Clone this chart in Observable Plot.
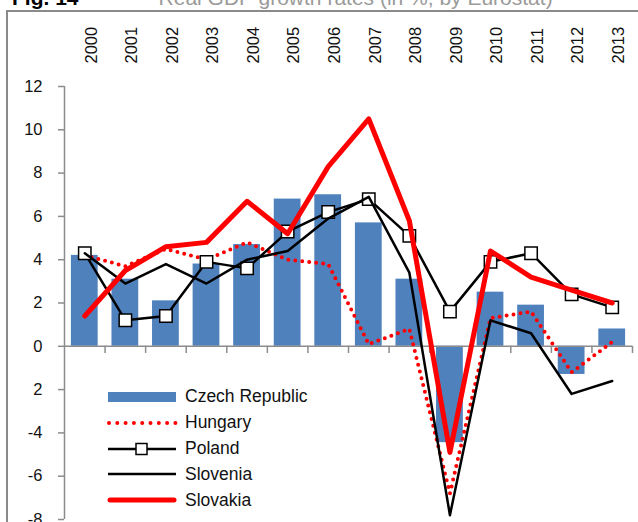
<!DOCTYPE html>
<html>
<head>
<meta charset="utf-8">
<script src="https://cdn.jsdelivr.net/npm/d3@7"></script>
<script src="https://cdn.jsdelivr.net/npm/@observablehq/plot@0.6"></script>
<style>
  html, body { margin:0; padding:0; background:#fff; }
  body { width:638px; height:522px; overflow:hidden; position:relative; font-family:"Liberation Sans", Arial, sans-serif; }
  #frame { position:absolute; left:6px; top:10px; width:700px; height:600px; border-left:2px solid #8a8a8a; border-top:2px solid #8a8a8a; box-sizing:border-box; }
  #title { position:absolute; left:12px; top:-14px; font-size:21px; line-height:24px; white-space:nowrap; }
  #title b { color:#000; }
  #title span { color:#9a9a9a; margin-left:80px; }
  #chart { position:absolute; left:0; top:0; }
  #legend { position:absolute; left:106px; top:384px; }
  .row { display:flex; align-items:center; height:25.8px; }
  .row svg { display:block; }
  .row .lab { margin-left:7px; font-size:17.5px; color:#111; }
</style>
</head>
<body>
<div id="title"><b>Fig. 14</b><span>Real GDP growth rates (in %, by Eurostat)</span></div>
<div id="frame"></div>
<div id="chart"></div>
<div id="legend"></div>
<script>
const years    = [2000, 2001, 2002, 2003, 2004, 2005, 2006, 2007, 2008, 2009, 2010, 2011, 2012, 2013];
const czech    = [4.2, 3.1, 2.1, 3.8, 4.7, 6.8, 7.0, 5.7, 3.1, -4.45, 2.5, 1.9, -1.3, 0.8];
const hungary  = [4.2, 3.7, 4.5, 4.0, 4.8, 4.0, 3.8, 0.1, 0.8, -6.8, 1.3, 1.6, -1.2, 0.2];
const poland   = [4.3, 1.2, 1.4, 3.9, 3.6, 5.3, 6.2, 6.8, 5.1, 1.6, 3.9, 4.3, 2.4, 1.8];
const slovenia = [4.3, 2.9, 3.8, 2.9, 4.0, 4.4, 5.9, 6.9, 3.4, -7.8, 1.2, 0.6, -2.2, -1.6];
const slovakia = [1.4, 3.5, 4.6, 4.8, 6.7, 5.2, 8.3, 10.5, 5.8, -4.9, 4.4, 3.2, 2.6, 2.0];
const seriesNames = ["Czech Republic", "Hungary", "Poland", "Slovenia", "Slovakia"];
const yTicks      = [-8, -6, -4, -2, 0, 2, 4, 6, 8, 10, 12];
const yTickLabels = ["-8", "-6", "-4", "2", "0", "2", "4", "6", "8", "10", "12"];

const data = years.map((year, i) => ({
  year, czech: czech[i], hungary: hungary[i], poland: poland[i], slovenia: slovenia[i], slovakia: slovakia[i]
}));
const boundaries = years.map(y => y + 0.5);
const axisGray = "#8c8c8c";

const chart = Plot.plot({
  width: 638,
  height: 522,
  marginLeft: 64,
  marginRight: 6,
  marginTop: 86,
  marginBottom: 3,
  x: {domain: [years[0] - 0.5, years[years.length - 1] + 0.5], axis: null},
  y: {domain: [-8, 12], axis: null},
  style: {fontFamily: "'Liberation Sans', Arial, sans-serif", fontSize: "16.5px", background: "transparent", overflow: "visible"},
  marks: [
    Plot.rectY(data, {x1: d => d.year - 0.33, x2: d => d.year + 0.33, y: "czech", fill: "#4F81BD"}),
    Plot.ruleY([0], {stroke: axisGray, strokeWidth: 1.5}),
    Plot.ruleX(boundaries, {x: d => d, y1: 0, y2: -0.33, stroke: axisGray, strokeWidth: 1.5}),
    Plot.ruleX([years[0] - 0.5], {stroke: axisGray, strokeWidth: 1.5}),
    Plot.axisY({ticks: yTicks, tickFormat: d => yTickLabels[yTicks.indexOf(d)], tickSize: 6, tickPadding: 16, stroke: axisGray, fill: "#111", strokeWidth: 1.5, fontSize: 16.5}),
    Plot.line(data, {x: "year", y: "hungary", stroke: "#ff0000", strokeWidth: 4, strokeDasharray: "0,7", strokeLinecap: "round"}),
    Plot.line(data, {x: "year", y: "poland", stroke: "#000", strokeWidth: 2.5}),
    Plot.dot(data, {x: "year", y: "poland", symbol: "square", r: 7, fill: "#fff", stroke: "#000", strokeWidth: 1.5}),
    Plot.line(data, {x: "year", y: "slovenia", stroke: "#000", strokeWidth: 2.5}),
    Plot.line(data, {x: "year", y: "slovakia", stroke: "#ff0000", strokeWidth: 5, strokeLinejoin: "round", strokeLinecap: "round"}),
    Plot.text(years, {x: d => d, frameAnchor: "top", rotate: -90, textAnchor: "start", dy: -23, text: d => String(d), fill: "#111", fontSize: 16.5})
  ]
});
document.getElementById("chart").appendChild(chart);

// legend
const swatches = [
  `<svg width="72" height="26"><rect x="2" y="8" width="68" height="10" fill="#4F81BD"/></svg>`,
  `<svg width="72" height="26"><line x1="3" y1="13" x2="70" y2="13" stroke="#ff0000" stroke-width="4" stroke-dasharray="0,8.3" stroke-linecap="round"/></svg>`,
  `<svg width="72" height="26"><line x1="2" y1="13" x2="70" y2="13" stroke="#000" stroke-width="2.5"/><rect x="30" y="7.5" width="11" height="11" fill="#fff" stroke="#000" stroke-width="1.5"/></svg>`,
  `<svg width="72" height="26"><line x1="2" y1="13" x2="70" y2="13" stroke="#000" stroke-width="2.5"/></svg>`,
  `<svg width="72" height="26"><line x1="4" y1="13" x2="68" y2="13" stroke="#ff0000" stroke-width="5" stroke-linecap="round"/></svg>`
];
document.getElementById("legend").innerHTML = seriesNames.map((n, i) =>
  `<div class="row">${swatches[i]}<span class="lab">${n}</span></div>`).join("");
</script>
</body>
</html>
